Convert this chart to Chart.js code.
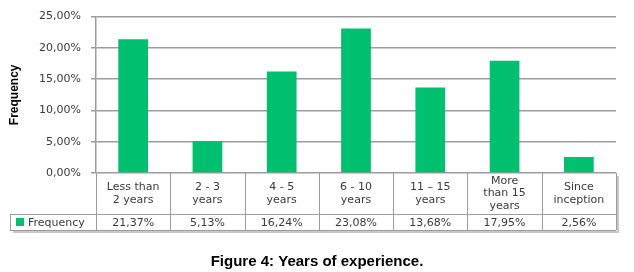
<!DOCTYPE html>
<html>
<head>
<meta charset="utf-8">
<script src="https://cdn.jsdelivr.net/npm/chart.js@4/dist/chart.umd.min.js"></script>
<style>
  html, body { margin: 0; padding: 0; background: #fff; }
  #wrap { width: 634px; height: 272px; }
</style>
</head>
<body>
<div id="wrap"><canvas id="years-chart"></canvas></div>
<script>
// data
const categories = [
  ['Less than', '2 years'],
  ['2 - 3', 'years'],
  ['4 - 5', 'years'],
  ['6 - 10', 'years'],
  ['11 \u2013 15', 'years'],
  ['More', 'than 15', 'years'],
  ['Since', 'inception']
];
const frequency = [21.37, 5.13, 16.24, 23.08, 13.68, 17.95, 2.56];
const seriesName = 'Frequency';

const barColor = '#00bf6f';
const lineColor = '#9c9c9c';
const textColor = '#3a3a3a';
const tableFont = '11px "DejaVu Sans", Verdana, sans-serif';

// format like the excel sheet: 21,37%
const pct = v => v.toFixed(2).replace('.', ',') + '%';

// draws the excel style data table under the plot
const dataTable = {
  id: 'dataTable',
  afterDraw(chart) {
    const ctx = chart.ctx;
    const area = chart.chartArea;
    const xs = chart.scales.x;
    const n = categories.length;
    const cw = (area.right - area.left) / n;
    const y0 = area.bottom, y1 = y0 + 41, y2 = y1 + 16;
    const legendLeft = 10;

    ctx.save();
    // shadow
    ctx.strokeStyle = '#c8c8c8';
    ctx.lineWidth = 2;
    ctx.beginPath();
    ctx.moveTo(area.right + 2, y0 + 3);
    ctx.lineTo(area.right + 2, y2 + 2);
    ctx.lineTo(legendLeft + 3, y2 + 2);
    ctx.stroke();

    ctx.strokeStyle = lineColor;
    ctx.lineWidth = 1;
    ctx.beginPath();
    for (let i = 0; i <= n; i++) {
      const bx = Math.round(xs.getPixelForValue(0) - cw / 2 + i * cw) + 0.5;
      ctx.moveTo(bx, y0);
      ctx.lineTo(bx, y2);
    }
    ctx.moveTo(legendLeft, y1 + 0.5);
    ctx.lineTo(area.right, y1 + 0.5);
    ctx.moveTo(legendLeft, y2 + 0.5);
    ctx.lineTo(area.right, y2 + 0.5);
    ctx.moveTo(legendLeft + 0.5, y1);
    ctx.lineTo(legendLeft + 0.5, y2);
    ctx.stroke();

    ctx.fillStyle = textColor;
    ctx.font = tableFont;
    ctx.textAlign = 'center';
    ctx.textBaseline = 'middle';
    const lh = 12.5;
    categories.forEach((lines, i) => {
      const cx = xs.getPixelForValue(i);
      const mid = (y0 + y1) / 2;
      lines.forEach((t, k) => {
        ctx.fillText(t, cx, mid + (k - (lines.length - 1) / 2) * lh);
      });
      ctx.fillText(pct(frequency[i]), cx, (y1 + y2) / 2 + 1);
    });

    // legend key
    ctx.fillStyle = barColor;
    ctx.fillRect(legendLeft + 6, y1 + 4, 8, 8);
    ctx.fillStyle = textColor;
    ctx.textAlign = 'left';
    ctx.fillText(seriesName, legendLeft + 18, (y1 + y2) / 2 + 1);
    ctx.restore();
  }
};

new Chart(document.getElementById('years-chart'), {
  type: 'bar',
  data: {
    labels: categories.map(c => c.join(' ')),
    datasets: [{
      label: seriesName,
      data: frequency,
      backgroundColor: barColor,
      borderWidth: 0,
      barPercentage: 0.4,
      categoryPercentage: 1
    }]
  },
  options: {
    responsive: true,
    maintainAspectRatio: false,
    animation: false,
    layout: { padding: { left: 9, right: 9, top: 10 } },
    plugins: {
      legend: { display: false },
      tooltip: { enabled: false },
      title: {
        display: true,
        position: 'bottom',
        text: 'Figure 4: Years of experience.',
        color: '#000',
        font: { family: 'Arial, "Liberation Sans", sans-serif', size: 15, weight: 'bold' },
        padding: { top: 80, bottom: 1 }
      }
    },
    scales: {
      x: { display: false },
      y: {
        min: 0,
        max: 25,
        afterFit(scale) { scale.width = 87; },
        ticks: {
          stepSize: 5,
          color: textColor,
          padding: 10,
          font: { family: '"DejaVu Sans", Verdana, sans-serif', size: 11 },
          callback: v => pct(v)
        },
        grid: { color: lineColor, lineWidth: 1.5, tickLength: 5 },
        border: { color: lineColor, width: 1.5 },
        title: {
          display: true,
          text: 'Frequency',
          color: '#000',
          font: { family: '"Liberation Sans Narrow", "Arial Narrow", Arial, sans-serif', size: 12, weight: 'bold' },
          padding: { top: -2, bottom: 0 }
        }
      },
      // empty spacer on the right so the plot ends where the excel one does
      yRight: {
        position: 'right',
        min: 0,
        max: 25,
        afterFit(scale) { scale.width = 9; },
        ticks: { display: false },
        grid: { display: false, drawTicks: false },
        border: { display: false }
      }
    }
  },
  plugins: [dataTable]
});
</script>
</body>
</html>
